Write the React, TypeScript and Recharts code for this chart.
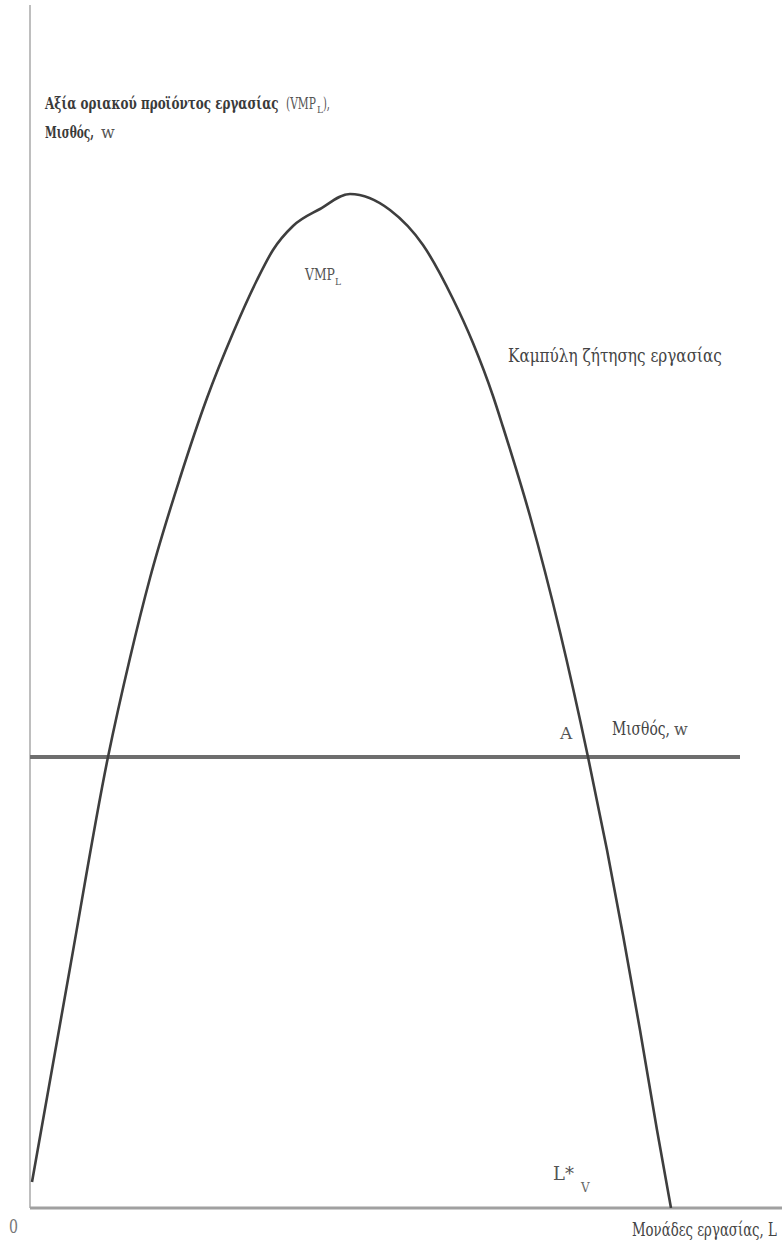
import { useLayoutEffect, useRef, useState } from 'react';
import { LineChart, Line, XAxis, YAxis, ReferenceLine } from 'recharts';

// labour units on the horizontal axis, VMP_L on the vertical one
const labourUnits = [2, 40, 78, 100, 120, 150, 177, 203, 227, 243, 263, 290, 320, 360, 393, 423, 443, 463, 473, 500, 530, 558, 577, 593, 610, 627, 641];
const vmpValues = [26, 240, 451, 550, 630, 730, 810, 875, 928, 958, 982, 999, 1014, 998, 963, 909, 865, 812, 781, 692, 576, 451, 358, 273, 178, 78, 0];

// market wage, flat
const wageLevel = 451;
const wageSpan = [0, 710];

const vmpData = labourUnits.map((l, i) => ({ l, vmp: vmpValues[i] }));
const wageData = wageSpan.map((l) => ({ l, w: wageLevel }));

const W = 782;
const H = 1245;
const serif = '"DejaVu Serif", "Liberation Serif", serif';

// squeezes a serif label horizontally so it spans the given width
function FitText({ x, y, width, size, fill = '#444', bold = false, children }: any) {
  const ref = useRef<SVGTextElement>(null);
  const [sx, setSx] = useState(1);
  useLayoutEffect(() => {
    if (ref.current) {
      const natural = ref.current.getComputedTextLength();
      if (natural > 0) setSx(width / natural);
    }
  }, [width]);
  return (
    <text
      ref={ref}
      transform={`translate(${x},${y}) scale(${sx},1)`}
      fontSize={size}
      fontWeight={bold ? 'bold' : 'normal'}
      fill={fill}
    >
      {children}
    </text>
  );
}

export default function App() {
  return (
    <div style={{ position: 'absolute', left: 0, top: 0, width: W, height: H, background: '#fff' }}>
      <LineChart width={W} height={H} margin={{ top: 5, right: 0, left: 30, bottom: 37 }}>
        <XAxis type="number" dataKey="l" domain={[0, 752]} hide allowDataOverflow />
        <YAxis type="number" domain={[0, 1203]} hide allowDataOverflow />
        <ReferenceLine x={0} stroke="#a8a8a8" strokeWidth={1.5} />
        <ReferenceLine y={0} stroke="#a0a0a0" strokeWidth={3} />
        <Line
          data={wageData}
          dataKey="w"
          stroke="#6e6e6e"
          strokeWidth={4}
          dot={false}
          isAnimationActive={false}
        />
        <Line
          data={vmpData}
          dataKey="vmp"
          type="monotone"
          stroke="#3e3e3e"
          strokeWidth={2.6}
          dot={false}
          isAnimationActive={false}
        />
      </LineChart>
      <svg width={W} height={H} style={{ position: 'absolute', left: 0, top: 0, pointerEvents: 'none' }}>
        <g fontFamily={serif}>
          {/* vertical axis title */}
          <FitText x={45} y={109} width={234} size={17} fill="#3a3a3a" bold>Αξία οριακού προϊόντος εργασίας</FitText>
          <FitText x={286} y={109} width={30} size={17} fill="#555">(VMP</FitText>
          <text x={317} y={113} fontSize={9} fill="#555">L</text>
          <FitText x={323} y={109} width={7} size={17} fill="#555">),</FitText>
          <FitText x={45} y={138} width={49} size={17} fill="#3a3a3a" bold>Μισθός,</FitText>
          <text x={101} y={138} fontSize={16} fill="#555">w</text>

          {/* curve labels */}
          <FitText x={305} y={280} width={30} size={17} fill="#555">VMP</FitText>
          <text x={335} y={285} fontSize={9} fill="#555">L</text>

          <FitText x={508} y={362} width={214} size={18}>Καμπύλη ζήτησης εργασίας</FitText>

          <FitText x={612} y={735} width={58} size={18}>Μισθός,</FitText>
          <text x={674} y={735} fontSize={16} fill="#555">w</text>
          <text x={560} y={739} fontSize={17} fill="#555">A</text>

          <text x={553} y={1180} fontSize={18} fill="#555">L*</text>
          <text x={581} y={1192} fontSize={12} fill="#666">V</text>

          {/* horizontal axis */}
          <FitText x={9} y={1233} width={9} size={18} fill="#777">0</FitText>
          <FitText x={632} y={1236} width={145} size={18}>Μονάδες εργασίας, L</FitText>
        </g>
      </svg>
    </div>
  );
}
